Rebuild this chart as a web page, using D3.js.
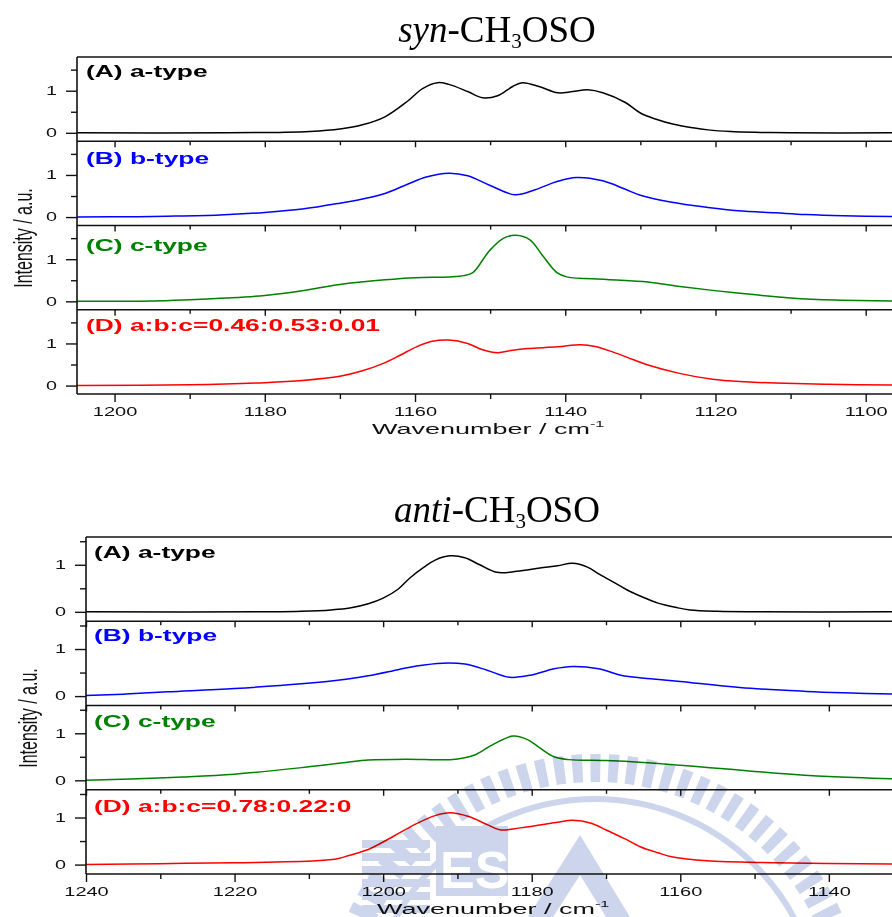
<!DOCTYPE html>
<html>
<head>
<meta charset="utf-8">
<script src="https://cdn.jsdelivr.net/npm/d3@7"></script>
<style>
  body { margin: 0; background: #fff; }
  svg { display: block; }
</style>
</head>
<body>
<svg id="chart" width="892" height="917"></svg>
<script>
// ---- data: [wavenumber, intensity] ----
const synA = [[1205,0],[1185,0],[1178,0.01],[1174,0.03],[1170,0.09],[1167,0.19],[1164,0.38],[1161,0.75],[1159,1.05],[1157,1.19],[1155.5,1.15],[1153,0.98],[1151,0.83],[1149,0.88],[1147,1.1],[1145.7,1.19],[1143.5,1.1],[1141,0.95],[1139,0.98],[1137,1.02],[1135,0.95],[1132,0.72],[1130,0.47],[1128,0.33],[1125.7,0.21],[1123,0.12],[1121,0.07],[1118,0.03],[1114,0.01],[1110,0],[1096,0]];
const synB = [[1205,0],[1197,0.01],[1193,0.02],[1186,0.05],[1180,0.11],[1175,0.19],[1170,0.33],[1167,0.43],[1164,0.56],[1161,0.78],[1158.5,0.95],[1155.5,1.04],[1153,0.98],[1150,0.75],[1146.7,0.53],[1144,0.65],[1141,0.85],[1138.5,0.94],[1135,0.86],[1132,0.66],[1130,0.52],[1126,0.36],[1121,0.23],[1117,0.15],[1112,0.1],[1108,0.06],[1103,0.03],[1096,0.01]];
const synC = [[1205,0],[1195,0.01],[1190,0.04],[1185,0.08],[1180,0.14],[1175,0.25],[1170,0.4],[1164,0.51],[1160,0.56],[1155.4,0.58],[1153.5,0.61],[1152.3,0.68],[1150.1,1.2],[1148.3,1.49],[1146.6,1.57],[1144.7,1.46],[1143,1.08],[1141.1,0.68],[1139.8,0.58],[1134.5,0.52],[1129,0.46],[1125,0.36],[1120.4,0.26],[1115,0.16],[1110,0.08],[1104,0.03],[1096,0.01]];
const synD = [[1205,0],[1190,0.02],[1180,0.07],[1175,0.12],[1170,0.22],[1167,0.35],[1164.3,0.52],[1162,0.72],[1159.8,0.92],[1157.7,1.05],[1155.5,1.08],[1153,1.0],[1151,0.85],[1149,0.78],[1147,0.84],[1145,0.88],[1141,0.92],[1138,0.97],[1136,0.93],[1133.7,0.8],[1131,0.62],[1129.2,0.5],[1124.8,0.29],[1120.4,0.15],[1116,0.09],[1112,0.06],[1105,0.03],[1096,0.01]];

const antiA = [[1240,0],[1215,0],[1211,0.01],[1207,0.04],[1204.5,0.08],[1202,0.17],[1200,0.29],[1198,0.48],[1196.4,0.72],[1194.5,0.95],[1193,1.1],[1191,1.19],[1189,1.15],[1187,1.0],[1184.7,0.84],[1182,0.86],[1178.9,0.93],[1176.5,0.98],[1174.5,1.03],[1172.5,0.95],[1170.8,0.79],[1169,0.63],[1167.2,0.47],[1165,0.31],[1163.1,0.19],[1160.5,0.09],[1158.7,0.04],[1155,0.01],[1150,0],[1131,0]];
const antiB = [[1240,0.01],[1235,0.04],[1229,0.09],[1220,0.16],[1211,0.26],[1205,0.36],[1202,0.43],[1198,0.56],[1195.5,0.64],[1192,0.7],[1189,0.68],[1186,0.55],[1183,0.4],[1180,0.45],[1177,0.58],[1174.5,0.63],[1171,0.58],[1167.7,0.43],[1164,0.37],[1160,0.31],[1152,0.18],[1143,0.1],[1138,0.07],[1131,0.04]];
const antiC = [[1240,0],[1234,0.03],[1227,0.07],[1220,0.13],[1211,0.27],[1205,0.38],[1202,0.43],[1197,0.45],[1191,0.44],[1189,0.48],[1187.5,0.55],[1185,0.78],[1182.5,0.94],[1180.5,0.86],[1179,0.7],[1177,0.5],[1175,0.44],[1170,0.42],[1165,0.38],[1160,0.32],[1156,0.27],[1150,0.19],[1147,0.15],[1140,0.08],[1131,0.03]];
const antiD = [[1240,0],[1230,0.02],[1220,0.04],[1209,0.08],[1206,0.13],[1204.5,0.2],[1202,0.32],[1200,0.48],[1197.5,0.7],[1195.5,0.87],[1193,1.04],[1191,1.1],[1188.5,1.02],[1186,0.85],[1184.3,0.74],[1181.5,0.78],[1178.9,0.84],[1176.5,0.9],[1174.5,0.94],[1172,0.88],[1169.9,0.73],[1167.5,0.55],[1165.4,0.38],[1163,0.25],[1161,0.16],[1156.4,0.08],[1147.5,0.04],[1131,0.01]];

const synLabels = ["(A) a-type", "(B) b-type", "(C) c-type", "(D) a:b:c=0.46:0.53:0.01"];
const antiLabels = ["(A) a-type", "(B) b-type", "(C) c-type", "(D) a:b:c=0.78:0.22:0"];
const colors = ["#000000", "#0000ff", "#008000", "#ff0000"];

const synMajor = [1200, 1180, 1160, 1140, 1120, 1100];
const synMinor = [1190, 1170, 1150, 1130, 1110];
const antiMajor = [1240, 1220, 1200, 1180, 1160, 1140];
const antiMinor = [1230, 1210, 1190, 1170, 1150];
const yMajor = [0, 1];
const yMinor = [0.5, 1.5];

const svg = d3.select("#chart");
const SANS = "'Liberation Sans', Arial, Helvetica, sans-serif";
const SERIF = "'Liberation Serif', 'Times New Roman', serif";

function drawBlock(cfg) {
  const g = svg.append("g");
  const x = d3.scaleLinear().domain(cfg.xDomain).range([cfg.left, 892]);
  const panelH = (cfg.bottom - cfg.top) / 4;

  // title
  const t = g.append("text")
    .attr("x", 497).attr("y", cfg.titleY)
    .attr("text-anchor", "middle")
    .attr("font-family", SERIF).attr("font-size", 37);
  t.append("tspan").attr("font-style", "italic").text(cfg.prefix);
  t.append("tspan").text("-CH");
  t.append("tspan").attr("font-size", 21).attr("dy", 6).text("3");
  t.append("tspan").attr("dy", -6).text("OSO");

  cfg.series.forEach((data, i) => {
    const top = cfg.top + i * panelH;
    const bot = top + panelH;
    const y = d3.scaleLinear().domain(cfg.yDomain).range([bot, top]);

    const line = d3.line()
      .x((d) => x(d[0]))
      .y((d) => y(d[1]))
      .curve(d3.curveCatmullRom.alpha(0.5));

    g.append("path")
      .datum(data)
      .attr("d", line)
      .attr("fill", "none")
      .attr("stroke", colors[i])
      .attr("stroke-width", 1.5);

    // y ticks
    const ya = g.append("g")
      .attr("transform", `translate(${cfg.left},0)`)
      .call(d3.axisLeft(y).tickValues(yMajor).tickSize(11).tickFormat(d3.format("d")));
    ya.select(".domain").remove();
    ya.selectAll("line").attr("stroke", "#111").attr("stroke-width", 1.4);
    ya.selectAll("text")
      .attr("x", 0)
      .attr("transform", `translate(${cfg.ylabGap},0) scale(1.65,1)`)
      .attr("font-family", SANS).attr("font-size", 12).attr("fill", "#111");

    const ym = g.append("g")
      .attr("transform", `translate(${cfg.left},0)`)
      .call(d3.axisLeft(y).tickValues(yMinor).tickSize(6).tickFormat(""));
    ym.select(".domain").remove();
    ym.selectAll("line").attr("stroke", "#111").attr("stroke-width", 1.4);

    // x ticks along the top edge of the lower panels
    if (i > 0) {
      [[cfg.major, 6], [cfg.minor, 4]].forEach(([vals, len]) => {
        const xa = g.append("g")
          .attr("transform", `translate(0,${top})`)
          .call(d3.axisBottom(x).tickValues(vals).tickSize(len).tickFormat(""));
        xa.select(".domain").remove();
        xa.selectAll("line").attr("stroke", "#111").attr("stroke-width", 1.4);
      });
    }

    // panel label
    g.append("text")
      .attr("transform", `translate(${cfg.left + cfg.labelDx},${top + cfg.labelDy[i]}) scale(1.65,1)`)
      .attr("font-family", SANS).attr("font-size", 16).attr("font-weight", "bold")
      .attr("fill", colors[i])
      .text(cfg.labels[i]);
  });

  // frame: top, separators, bottom, left
  d3.range(5).forEach((k) => {
    g.append("line")
      .attr("x1", cfg.left).attr("x2", 892)
      .attr("y1", cfg.top + k * panelH).attr("y2", cfg.top + k * panelH)
      .attr("stroke", "#111").attr("stroke-width", 1.6);
  });
  g.append("line")
    .attr("x1", cfg.left).attr("x2", cfg.left)
    .attr("y1", cfg.top).attr("y2", cfg.bottom)
    .attr("stroke", "#111").attr("stroke-width", 1.6);

  // bottom axis
  const xb = g.append("g")
    .attr("transform", `translate(0,${cfg.bottom})`)
    .call(d3.axisBottom(x).tickValues(cfg.major).tickSize(8).tickPadding(5).tickFormat(d3.format("d")));
  xb.select(".domain").remove();
  xb.selectAll("line").attr("stroke", "#111").attr("stroke-width", 1.4);
  xb.selectAll("text")
    .attr("font-family", SANS).attr("font-size", 12.5).attr("fill", "#111")
    .attr("transform", "scale(1.6,1)");
  const xbm = g.append("g")
    .attr("transform", `translate(0,${cfg.bottom})`)
    .call(d3.axisBottom(x).tickValues(cfg.minor).tickSize(5).tickFormat(""));
  xbm.select(".domain").remove();
  xbm.selectAll("line").attr("stroke", "#111").attr("stroke-width", 1.4);

  // x label
  const xl = g.append("text")
    .attr("transform", `translate(${cfg.xlabX},${cfg.xlabY}) scale(1.8,1)`)
    .attr("font-family", SANS).attr("font-size", 15).attr("fill", "#111");
  xl.append("tspan").text("Wavenumber / cm");
  xl.append("tspan").attr("font-size", 9).attr("dy", -7).text("-1");

  // y label
  g.append("text")
    .attr("transform", `translate(${cfg.ylabX},${cfg.ylabY}) scale(1.65,1) rotate(-90)`)
    .attr("text-anchor", "middle")
    .attr("font-family", SANS).attr("font-size", 16).attr("fill", "#111")
    .text("Intensity / a.u.");
}

drawBlock({
  prefix: "syn", titleY: 42,
  left: 77, top: 57, bottom: 394,
  xDomain: [1205, 1096.5], yDomain: [-0.2, 1.8],
  major: synMajor, minor: synMinor,
  series: [synA, synB, synC, synD], labels: synLabels,
  labelDx: 9, labelDy: [20, 23, 25, 21],
  ylabGap: -20, xlabX: 372, xlabY: 434, ylabX: 32, ylabY: 238
});

drawBlock({
  prefix: "anti", titleY: 522,
  left: 86, top: 537, bottom: 874,
  xDomain: [1240, 1131.5], yDomain: [-0.2, 1.59],
  major: antiMajor, minor: antiMinor,
  series: [antiA, antiB, antiC, antiD], labels: antiLabels,
  labelDx: 8, labelDy: [21, 20, 21.5, 22],
  ylabGap: -20, xlabX: 377, xlabY: 914, ylabX: 36.5, ylabY: 718
});

// faint seal watermark in the lower right
const wm = svg.append("g")
  .style("mix-blend-mode", "multiply")
  .attr("opacity", 0.6)
  .attr("fill", "#a9b9de").attr("stroke", "#a9b9de");
wm.append("circle")
  .attr("cx", 595).attr("cy", 1025).attr("r", 257)
  .attr("fill", "none").attr("stroke-width", 28).attr("stroke-dasharray", "10 8");
wm.append("circle")
  .attr("cx", 595).attr("cy", 1025).attr("r", 226)
  .attr("fill", "none").attr("stroke-width", 6);
d3.range(6).forEach((k) => {
  wm.append("rect").attr("x", 362).attr("y", 840 + k * 13).attr("width", 68).attr("height", 8).attr("stroke", "none");
});
wm.append("rect").attr("x", 436).attr("y", 826).attr("width", 72).attr("height", 70).attr("stroke", "none");
wm.append("text").attr("x", 440).attr("y", 888)
  .attr("font-family", SANS).attr("font-weight", "bold").attr("font-size", 52)
  .attr("fill", "#fff").attr("stroke", "none").text("ES");
wm.append("path").attr("d", "M528,917 L580,835 L630,917 L606,917 L580,875 L553,917 Z").attr("stroke", "none");
</script>
</body>
</html>
